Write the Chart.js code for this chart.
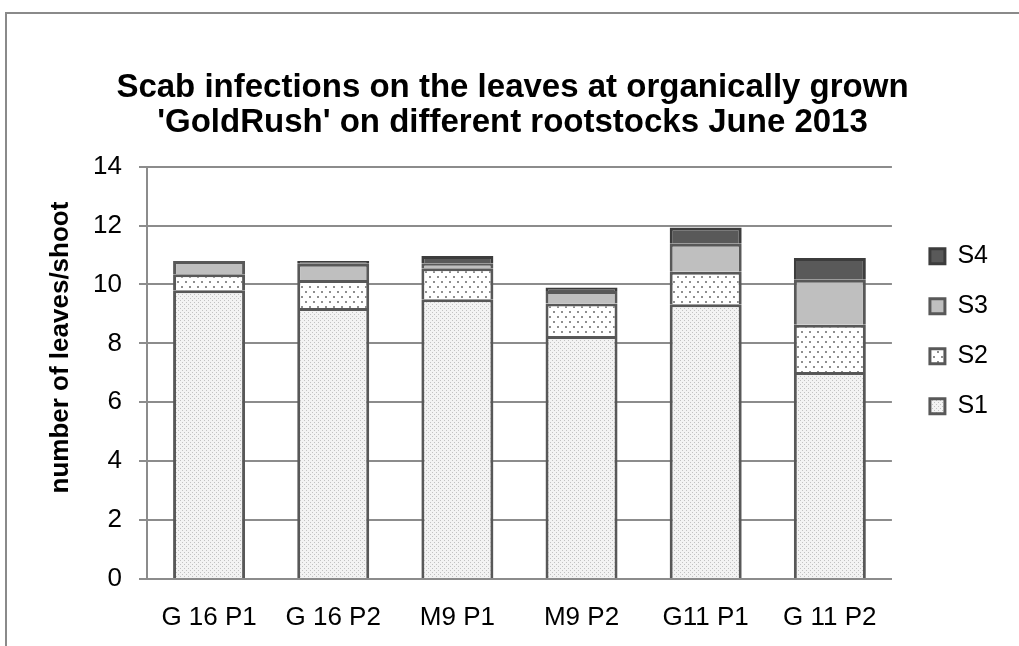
<!DOCTYPE html>
<html>
<head>
<meta charset="utf-8">
<script src="https://cdn.jsdelivr.net/npm/chart.js@4/dist/chart.umd.min.js"></script>
<style>
  html, body { margin: 0; padding: 0; background: #fff; overflow: hidden; }
  #wrap { width: 1019px; height: 646px; }
</style>
</head>
<body>
<div id="wrap"><canvas id="c" width="1019" height="646"></canvas></div>
<script>
// Rootstock / planting combinations
const categories = ['G 16 P1', 'G 16 P2', 'M9 P1', 'M9 P2', 'G11 P1', 'G 11 P2'];
// Scab severity classes, leaves per shoot
const s1 = [9.8, 9.2, 9.5, 8.25, 9.33, 7.03];
const s2 = [0.55, 0.95, 1.05, 1.1, 1.1, 1.6];
const s3 = [0.45, 0.55, 0.17, 0.43, 0.95, 1.53];
const s4 = [0, 0.1, 0.25, 0.12, 0.55, 0.74];
const yTicks = [0, 2, 4, 6, 8, 10, 12, 14];

const FONT = "'Liberation Sans', Arial, sans-serif";
const GRID = '#8c8c8c';

// Fill patterns for the lower two classes
function makePattern(w, h, bg, dotColor, dots, size) {
  const c = document.createElement('canvas');
  c.width = w; c.height = h;
  const g = c.getContext('2d');
  g.fillStyle = bg;
  g.fillRect(0, 0, w, h);
  g.fillStyle = dotColor;
  dots.forEach(([x, y]) => g.fillRect(x, y, size, size));
  return g.createPattern(c, 'repeat');
}
const ctx = document.getElementById('c').getContext('2d');
const fineDots = makePattern(4, 4, '#f3f3f3', '#c2c2c2', [[0, 0], [2, 2]], 1);
const openDots = makePattern(8, 10, '#ffffff', '#8f8f8f', [[1, 1], [5, 6]], 2);

// White page with grey frame
const framePlugin = {
  id: 'frame',
  beforeDraw(chart) {
    const c = chart.ctx;
    c.save();
    c.fillStyle = '#fff';
    c.fillRect(0, 0, chart.width, chart.height);
    c.strokeStyle = '#8a8a8a';
    c.lineWidth = 2;
    c.strokeRect(6, 13, 2000, 2000);
    c.restore();
  }
};

// Nudge the legend column next to the plot
const legendOffset = {
  id: 'legendOffset',
  afterLayout(chart) {
    const lg = chart.legend;
    if (!lg) return;
    const dx = 13, dy = 52;
    lg.left += dx; lg.right += dx;
    lg.top += dy; lg.bottom += dy;
  }
};

const common = { borderWidth: 3, borderSkipped: 'start', categoryPercentage: 1, barPercentage: 0.58 };

new Chart(ctx, {
  type: 'bar',
  data: {
    labels: categories,
    datasets: [
      { label: 'S1', data: s1, backgroundColor: fineDots, borderColor: '#585858', ...common },
      { label: 'S2', data: s2, backgroundColor: openDots, borderColor: '#585858', ...common },
      { label: 'S3', data: s3, backgroundColor: '#bfbfbf', borderColor: '#585858', ...common },
      { label: 'S4', data: s4, backgroundColor: '#595959', borderColor: '#3c3c3c', ...common }
    ]
  },
  options: {
    responsive: false,
    animation: false,
    layout: { padding: { left: 40, right: 34, top: 0, bottom: 0 } },
    plugins: {
      title: {
        display: true,
        text: ["Scab infections on the leaves at organically grown", "'GoldRush' on different rootstocks June 2013"],
        color: '#000',
        font: { family: FONT, size: 33, weight: 'bold', lineHeight: 1.04 },
        padding: { top: 71, bottom: 27 }
      },
      legend: {
        position: 'right',
        align: 'start',
        fullSize: false,
        reverse: true,
        labels: {
          color: '#000',
          font: { family: FONT, size: 25 },
          boxWidth: 15,
          boxHeight: 15,
          padding: 25
        }
      },
      tooltip: { enabled: false }
    },
    scales: {
      x: {
        stacked: true,
        grid: { display: false, drawTicks: false },
        border: { display: true, color: GRID, width: 2 },
        ticks: { color: '#000', font: { family: FONT, size: 26 }, padding: 23, maxRotation: 0 },
        afterFit(scale) { scale.height = 67; }
      },
      y: {
        stacked: true,
        min: 0,
        max: 14,
        afterBuildTicks(scale) { scale.ticks = yTicks.map(v => ({ value: v })); },
        grid: { color: GRID, lineWidth: 2, tickLength: 8, tickColor: GRID, drawTicks: true },
        border: { display: true, color: GRID, width: 2 },
        ticks: { color: '#000', font: { family: FONT, size: 26 }, padding: 17 },
        title: {
          display: true,
          text: '       number of leaves/shoot',
          color: '#000',
          font: { family: FONT, size: 26, weight: 'bold' },
          padding: { top: 5, bottom: 0 }
        },
        afterFit(scale) { scale.width = 107; }
      }
    }
  },
  plugins: [framePlugin, legendOffset]
});
</script>
</body>
</html>
